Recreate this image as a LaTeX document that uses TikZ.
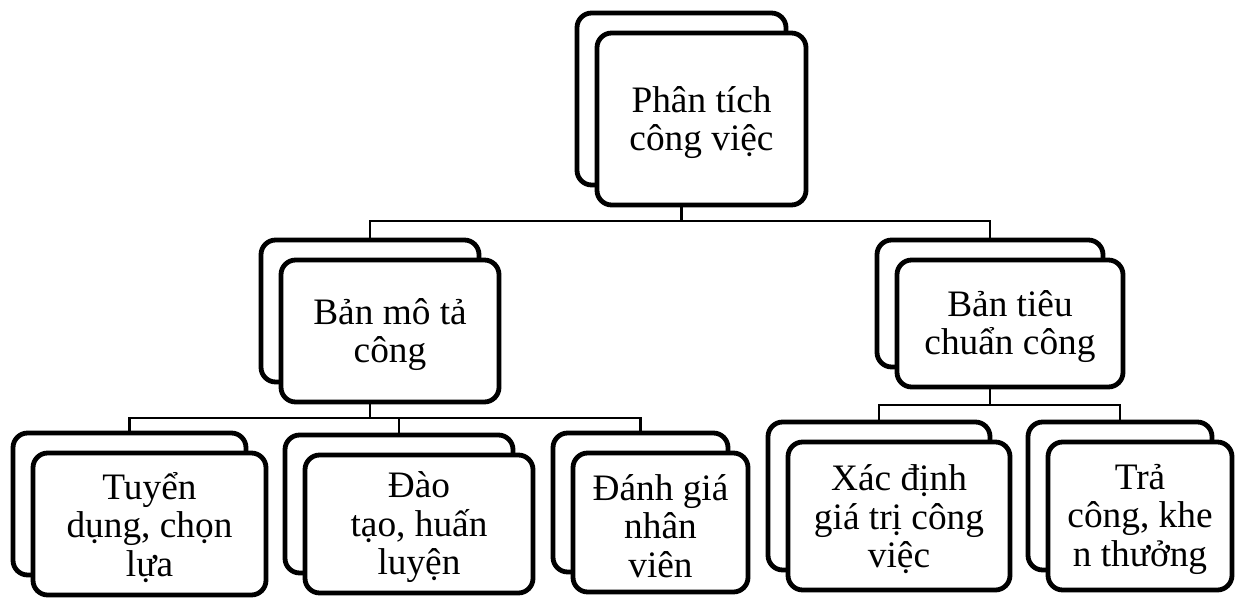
\documentclass[tikz,border=0pt]{standalone}
\usepackage{fontspec}
\setmainfont{Liberation Serif}
\newcommand\stackbox[6]{%
  \node[box,minimum width=#4*0.75pt,minimum height=#5*0.75pt] (b#1) at (#2-20,#3-20) {};
  \node[box,minimum width=#4*0.75pt,minimum height=#5*0.75pt] (f#1) at (#2,#3) {};
  \node[lbl] (t#1) at ([yshift=-2.5pt]f#1.center) {#6};}
\begin{document}
\begin{tikzpicture}[x=0.75pt,y=-0.75pt,
  box/.style={draw,line width=3.6pt,rounded corners=11pt,fill=white,inner sep=0pt},
  lbl/.style={align=center,inner sep=0pt,font=\fontsize{28}{28.8}\selectfont},
  conn/.style={line width=1.8pt}]
\useasboundingbox (0,0) rectangle (1235,599);
% boxes
\stackbox{0}{701.5}{119}{209}{172}{Phân tích\\công việc}
\stackbox{1}{390}{331}{218}{142}{Bản mô tả\\công}
\stackbox{2}{1010}{323.5}{226}{127}{Bản tiêu\\chuẩn công}
\stackbox{3}{149.5}{524}{233}{142}{Tuyển\\dụng, chọn\\lựa}
\stackbox{4}{419}{524}{228}{138}{Đào\\tạo, huấn\\luyện}
\stackbox{5}{660.5}{522.5}{175}{139}{Đánh giá\\nhân\\viên}
\stackbox{6}{899}{516}{222}{148}{Xác định\\giá trị công\\việc}
\stackbox{7}{1140}{516}{184}{148}{Trả\\công, khe\\n thưởng}
% junction levels
\coordinate (j0) at (681.5,221);
\coordinate (j1) at (370,418);
\coordinate (j2) at (990,405);
% connectors
\draw[conn] (f0.south -| b0.north) -- (b0.north |- j0);
\draw[conn] (b1.north) -- (b1.north |- j0) -- (b2.north |- j0) -- (b2.north);
\draw[conn] (f1.south -| b1.north) -- (b1.north |- j1);
\draw[conn] (b3.north) -- (b3.north |- j1) -- (b5.north |- j1) -- (b5.north);
\draw[conn] (b4.north |- j1) -- (b4.north);
\draw[conn] (f2.south -| b2.north) -- (b2.north |- j2);
\draw[conn] (b6.north) -- (b6.north |- j2) -- (b7.north |- j2) -- (b7.north);
\end{tikzpicture}
\end{document}
